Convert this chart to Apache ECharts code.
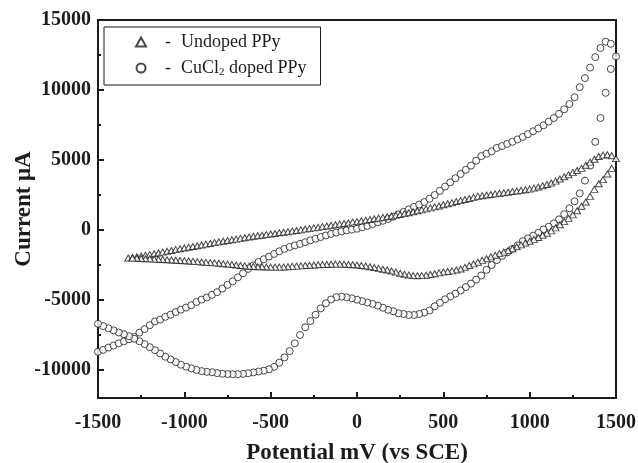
<!DOCTYPE html>
<html>
<head>
<meta charset="utf-8">
<script src="https://cdn.jsdelivr.net/npm/echarts@6/dist/echarts.min.js"></script>
<style>
  html, body { margin: 0; padding: 0; background: #fff; }
  #chart-container { width: 638px; height: 463px; }
</style>
</head>
<body>
<div id="chart-container"></div>
<script>
// potential (mV vs SCE), current (uA)

// CuCl2 doped PPy, anodic sweep -1500 -> 1500
const cuForward = [
  [-1500, -8700], [-1470, -8560], [-1440, -8400], [-1410, -8250], [-1380, -8100],
  [-1350, -7960], [-1320, -7800], [-1290, -7640], [-1260, -7330], [-1230, -7080],
  [-1200, -6800], [-1170, -6530], [-1140, -6400], [-1110, -6200], [-1080, -6050],
  [-1050, -5860], [-1020, -5690], [-990, -5540], [-960, -5370], [-930, -5140],
  [-900, -4970], [-870, -4820], [-840, -4630], [-810, -4440], [-780, -4180],
  [-750, -3920], [-720, -3670], [-690, -3380], [-660, -3090], [-630, -2780],
  [-600, -2530], [-570, -2280], [-540, -2090], [-510, -1900], [-480, -1710],
  [-450, -1520], [-420, -1350], [-390, -1210], [-360, -1100], [-330, -990],
  [-300, -870], [-270, -740], [-240, -620], [-210, -500], [-180, -390],
  [-150, -280], [-120, -180], [-90, -100], [-60, -30], [-30, 30],
  [0, 90], [30, 190], [60, 290], [90, 420], [120, 550],
  [150, 660], [180, 790], [210, 950], [240, 1120], [270, 1300],
  [300, 1480], [330, 1650], [360, 1820], [390, 2000], [420, 2230],
  [450, 2500], [480, 2800], [510, 3100], [540, 3400], [570, 3700],
  [600, 4000], [630, 4300], [660, 4600], [690, 4950], [720, 5280],
  [750, 5450], [780, 5620], [810, 5860], [840, 6000], [870, 6150],
  [900, 6300], [930, 6470], [960, 6650], [990, 6850], [1020, 7050],
  [1050, 7250], [1080, 7480], [1110, 7740], [1140, 8000], [1170, 8300],
  [1200, 8620], [1230, 9000], [1260, 9480], [1290, 10200], [1320, 10850],
  [1350, 11600], [1380, 12350], [1410, 13000], [1440, 13450], [1470, 13300],
  [1500, 12400]
];

// CuCl2 doped PPy, cathodic sweep 1500 -> -1500
const cuReverse = [
  [1470, 11500], [1440, 9800], [1410, 8000], [1380, 6300], [1350, 4600],
  [1320, 3530], [1290, 2620], [1260, 2050], [1230, 1550], [1200, 1130],
  [1170, 760], [1140, 470], [1110, 230], [1080, 40], [1050, -200],
  [1020, -400], [990, -600], [960, -800], [930, -1100], [900, -1350],
  [870, -1600], [840, -1850], [810, -2150], [780, -2500], [750, -2850],
  [720, -3250], [690, -3550], [660, -3830], [630, -4080], [600, -4320],
  [570, -4550], [540, -4750], [510, -4950], [480, -5200], [450, -5450],
  [420, -5750], [390, -5900], [360, -6000], [330, -6070], [300, -6070],
  [270, -6000], [240, -5950], [210, -5800], [180, -5700], [150, -5550],
  [120, -5400], [90, -5280], [60, -5180], [30, -5080], [0, -4980],
  [-30, -4880], [-60, -4810], [-90, -4760], [-120, -4800], [-150, -4960],
  [-180, -5230], [-210, -5600], [-240, -6050], [-270, -6500], [-300, -6950],
  [-330, -7500], [-360, -8100], [-390, -8650], [-420, -9100], [-450, -9480],
  [-480, -9780], [-510, -9950], [-540, -10050], [-570, -10110], [-600, -10170],
  [-630, -10230], [-660, -10280], [-690, -10300], [-720, -10300], [-750, -10290],
  [-780, -10270], [-810, -10220], [-840, -10160], [-870, -10130], [-900, -10080],
  [-930, -9990], [-960, -9880], [-990, -9760], [-1020, -9620], [-1050, -9430],
  [-1080, -9240], [-1110, -9050], [-1140, -8820], [-1170, -8590], [-1200, -8370],
  [-1230, -8150], [-1260, -7950], [-1290, -7770], [-1320, -7590], [-1350, -7440],
  [-1380, -7320], [-1410, -7170], [-1440, -7020], [-1470, -6870], [-1500, -6700]
];

// Undoped PPy, anodic sweep -1325 -> 1500
const ppyForward = [
  [-1325, -2000], [-1300, -1960], [-1275, -1910], [-1250, -1860], [-1225, -1810],
  [-1200, -1760], [-1175, -1700], [-1150, -1640], [-1125, -1580], [-1100, -1520],
  [-1075, -1460], [-1050, -1400], [-1025, -1340], [-1000, -1290], [-975, -1230],
  [-950, -1180], [-925, -1120], [-900, -1070], [-875, -1010], [-850, -960],
  [-825, -900], [-800, -850], [-775, -800], [-750, -750], [-725, -700],
  [-700, -650], [-675, -600], [-650, -550], [-625, -500], [-600, -450],
  [-575, -410], [-550, -370], [-525, -330], [-500, -290], [-475, -250],
  [-450, -200], [-425, -160], [-400, -120], [-375, -80], [-350, -30],
  [-325, 10], [-300, 60], [-275, 100], [-250, 150], [-225, 190],
  [-200, 240], [-175, 280], [-150, 330], [-125, 370], [-100, 420],
  [-75, 460], [-50, 510], [-25, 560], [0, 600], [25, 650],
  [50, 700], [75, 750], [100, 800], [125, 850], [150, 900],
  [175, 950], [200, 1000], [225, 1060], [250, 1110], [275, 1170],
  [300, 1230], [325, 1300], [350, 1370], [375, 1440], [400, 1510],
  [425, 1580], [450, 1650], [475, 1720], [500, 1800], [525, 1870],
  [550, 1950], [575, 2030], [600, 2100], [625, 2180], [650, 2250],
  [675, 2330], [700, 2400], [725, 2450], [750, 2500], [775, 2540],
  [800, 2580], [825, 2620], [850, 2660], [875, 2700], [900, 2750],
  [925, 2790], [950, 2830], [975, 2870], [1000, 2920], [1025, 2990],
  [1050, 3070], [1075, 3160], [1100, 3250], [1125, 3360], [1150, 3490],
  [1175, 3640], [1200, 3800], [1225, 3950], [1250, 4100], [1275, 4250],
  [1300, 4400], [1325, 4620], [1350, 4850], [1375, 5050], [1400, 5250],
  [1425, 5350], [1450, 5380], [1475, 5300], [1500, 5100]
];

// Undoped PPy, cathodic sweep 1500 -> -1300
const ppyReverse = [
  [1475, 4400], [1450, 4000], [1425, 3600], [1400, 3300], [1375, 2900],
  [1350, 2400], [1325, 2000], [1300, 1700], [1275, 1380], [1250, 1080],
  [1225, 830], [1200, 600], [1175, 380], [1150, 150], [1125, -60],
  [1100, -230], [1075, -380], [1050, -530], [1025, -670], [1000, -800],
  [975, -930], [950, -1060], [925, -1200], [900, -1340], [875, -1460],
  [850, -1580], [825, -1690], [800, -1800], [775, -1920], [750, -2050],
  [725, -2170], [700, -2300], [675, -2420], [650, -2540], [625, -2660],
  [600, -2780], [575, -2860], [550, -2920], [525, -2960], [500, -3000],
  [475, -3060], [450, -3120], [425, -3180], [400, -3230], [375, -3260],
  [350, -3270], [325, -3260], [300, -3220], [275, -3160], [250, -3090],
  [225, -3010], [200, -2930], [175, -2860], [150, -2800], [125, -2740],
  [100, -2680], [75, -2620], [50, -2570], [25, -2530], [0, -2500],
  [-25, -2480], [-50, -2460], [-75, -2450], [-100, -2440], [-125, -2440],
  [-150, -2450], [-175, -2460], [-200, -2470], [-225, -2480], [-250, -2500],
  [-275, -2520], [-300, -2540], [-325, -2560], [-350, -2580], [-375, -2600],
  [-400, -2620], [-425, -2640], [-450, -2650], [-475, -2650], [-500, -2650],
  [-525, -2640], [-550, -2630], [-575, -2620], [-600, -2610], [-625, -2590],
  [-650, -2560], [-675, -2530], [-700, -2500], [-725, -2470], [-750, -2440],
  [-775, -2410], [-800, -2380], [-825, -2350], [-850, -2330], [-875, -2310],
  [-900, -2280], [-925, -2260], [-950, -2240], [-975, -2220], [-1000, -2200],
  [-1025, -2180], [-1050, -2160], [-1075, -2140], [-1100, -2120], [-1125, -2110],
  [-1150, -2090], [-1175, -2080], [-1200, -2060], [-1225, -2050], [-1250, -2040],
  [-1275, -2020], [-1300, -2010]
];

const yMajorTicks = [-10000, -5000, 0, 5000, 10000, 15000];
const yMinorTicks = [-7500, -2500, 2500, 7500, 12500];
const seriesNames = ['Undoped PPy', 'CuCl2 doped PPy'];

const FONT = 'Liberation Serif';
const INK = '#1c1c1c';

// plain numbers, no thousands separators
const plain = (v) => String(v);

const dom = document.getElementById('chart-container');
const myChart = echarts.init(dom, null, { renderer: 'canvas' });

var option = {
  animation: false,
  backgroundColor: '#fff',
  grid: {
    left: 98, right: 22, top: 20, bottom: 65,
    outerBoundsMode: 'none',
    show: true, borderColor: INK, borderWidth: 2
  },
  legend: {
    orient: 'vertical',
    left: 104, top: 27,
    padding: [6, 14, 7, 31],
    itemGap: 7,
    itemWidth: 10, itemHeight: 9,
    borderColor: INK, borderWidth: 1,
    backgroundColor: '#fff',
    data: [
      { name: seriesNames[0], icon: 'triangle' },
      { name: seriesNames[1], icon: 'circle' }
    ],
    formatter: function (name) {
      if (name === seriesNames[1]) {
        return '{d|-}{t|CuCl}{s|2}{t| doped PPy}';
      }
      return '{d|-}{t|' + name + '}';
    },
    textStyle: {
      fontFamily: FONT, fontSize: 18, color: INK,
      rich: {
        d: { fontFamily: FONT, fontSize: 18, color: INK, lineHeight: 18, padding: [0, 10, 0, 14] },
        t: { fontFamily: FONT, fontSize: 18, color: INK, lineHeight: 18 },
        s: { fontFamily: FONT, fontSize: 11, color: INK, lineHeight: 9, padding: [9, 0, 0, 0] }
      }
    }
  },
  xAxis: {
    type: 'value',
    min: -1500, max: 1500, interval: 500,
    name: 'Potential mV (vs SCE)',
    nameLocation: 'middle', nameGap: 44,
    nameTextStyle: { fontFamily: FONT, fontSize: 23, fontWeight: 'bold', color: INK },
    axisLine: { onZero: false, lineStyle: { color: INK, width: 2 } },
    axisTick: { inside: true, length: 6, lineStyle: { color: INK, width: 2 } },
    minorTick: { show: true, splitNumber: 2, length: 3, lineStyle: { color: INK, width: 2 } },
    splitLine: { show: false },
    axisLabel: { formatter: plain, fontFamily: FONT, fontSize: 20, fontWeight: 'bold', color: INK, margin: 15 }
  },
  yAxis: [
    {
      type: 'value',
      min: -12000, max: 15000,
      name: 'Current \u03bcA',
      nameLocation: 'middle', nameGap: 62,
      nameMoveOverlap: false,
      nameTextStyle: { fontFamily: FONT, fontSize: 23, fontWeight: 'bold', color: INK },
      axisLine: { onZero: false, lineStyle: { color: INK, width: 2 } },
      axisTick: { inside: true, length: 6, customValues: yMajorTicks, lineStyle: { color: INK, width: 2 } },
      splitLine: { show: false },
      axisLabel: {
        customValues: yMajorTicks, formatter: plain,
        fontFamily: FONT, fontSize: 20, fontWeight: 'bold', color: INK, margin: 7
      }
    },
    {
      type: 'value',
      min: -12000, max: 15000,
      position: 'left',
      axisLine: { show: false, onZero: false },
      axisTick: { inside: true, length: 3, customValues: yMinorTicks, lineStyle: { color: INK, width: 2 } },
      splitLine: { show: false },
      axisLabel: { show: false }
    }
  ],
  series: [
    {
      name: seriesNames[1],
      type: 'scatter',
      symbol: 'circle',
      symbolSize: 7,
      itemStyle: { color: '#fff', borderColor: INK, borderWidth: 1 },
      data: cuForward.concat(cuReverse)
    },
    {
      name: seriesNames[0],
      type: 'scatter',
      symbol: 'triangle',
      symbolSize: [7, 6],
      itemStyle: { color: '#fff', borderColor: INK, borderWidth: 1 },
      data: ppyForward.concat(ppyReverse)
    }
  ]
};

myChart.setOption(option);
window.addEventListener('resize', myChart.resize);
</script>
</body>
</html>
